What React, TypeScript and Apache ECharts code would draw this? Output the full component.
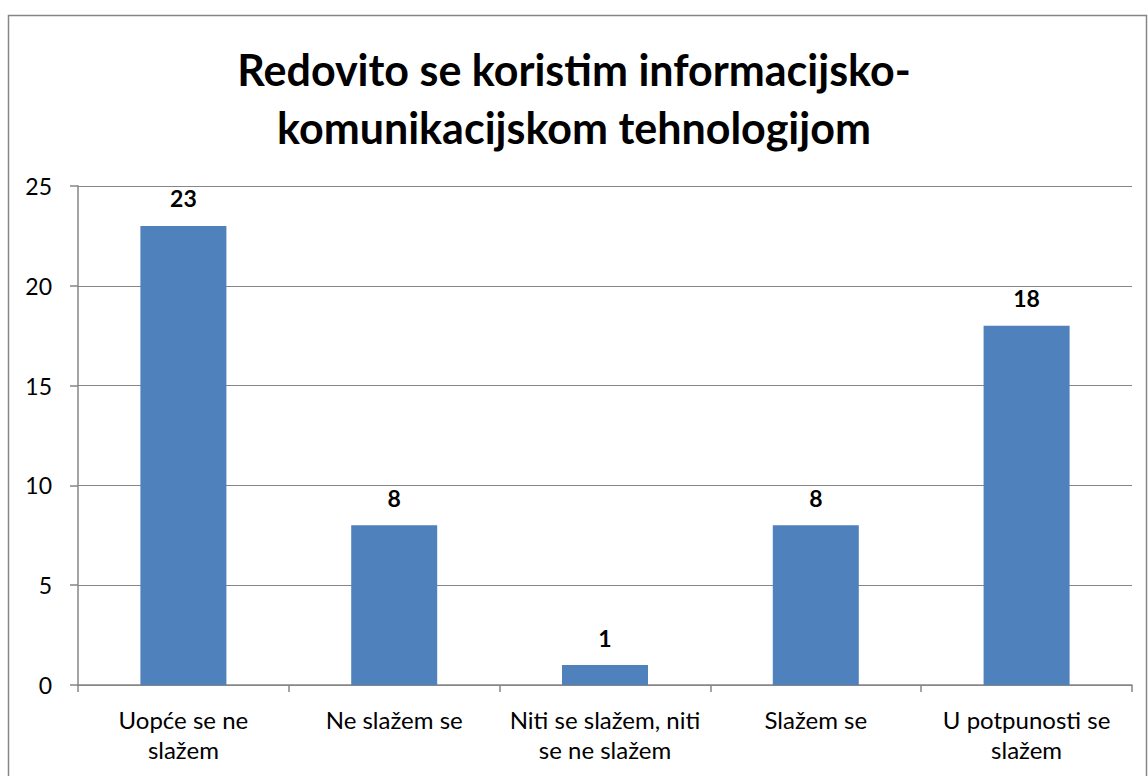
import React, { useEffect, useRef } from "react";
import * as echarts from "echarts";

const titleLines = ["Redovito se koristim informacijsko-", "komunikacijskom tehnologijom"];
const categories = ["Uopće se ne\nslažem", "Ne slažem se", "Niti se slažem, niti\nse ne slažem", "Slažem se", "U potpunosti se\nslažem"];
const values = [23, 8, 1, 8, 18];
const yTicks = { min: 0, max: 25, interval: 5 };

const FONT = "Lato, 'Open Sans', sans-serif";

export default function App() {
  const ref = useRef<HTMLDivElement>(null);
  useEffect(() => {
    if (!ref.current) return;
    const chart = echarts.init(ref.current, null, { renderer: "svg" });
    chart.setOption({
      animation: false,
      backgroundColor: "#ffffff",
      title: {
        text: titleLines.join("\n"),
        left: "center",
        top: 35,
        textStyle: { fontFamily: FONT, fontWeight: "bold", fontSize: 43, lineHeight: 58, color: "#000" },
      },
      graphic: [
        {
          type: "rect",
          shape: { x: 8.5, y: 15.5, width: 1138, height: 800 },
          style: { fill: "none", stroke: "#868686", lineWidth: 1.5 },
          silent: true,
        },
      ],
      grid: { left: 78, right: 16, top: 186, bottom: 91, containLabel: false },
      xAxis: {
        type: "category",
        data: categories,
        axisLine: { lineStyle: { color: "#868686", width: 1.5 } },
        axisTick: { show: true, alignWithLabel: false, length: 7, lineStyle: { color: "#868686", width: 1.5 } },
        axisLabel: { fontFamily: FONT, fontSize: 24, color: "#000", lineHeight: 30, margin: 19, interval: 0 },
      },
      yAxis: {
        type: "value",
        min: yTicks.min,
        max: yTicks.max,
        interval: yTicks.interval,
        axisLine: { show: true, lineStyle: { color: "#868686", width: 1.5 } },
        axisTick: { show: true, length: 8, lineStyle: { color: "#868686", width: 1.5 } },
        splitLine: { lineStyle: { color: "#868686", width: 1.2 } },
        axisLabel: { fontFamily: FONT, fontSize: 23, color: "#000", margin: 26 },
      },
      series: [
        {
          type: "bar",
          data: values,
          barWidth: 86,
          itemStyle: { color: "#4F81BD" },
          label: {
            show: true,
            position: "top",
            distance: 16,
            fontFamily: FONT,
            fontWeight: "bold",
            fontSize: 23,
            color: "#000",
          },
        },
      ],
    });
    return () => chart.dispose();
  }, []);
  return <div ref={ref} style={{ position: "fixed", left: 0, top: 0, width: 1148, height: 776 }} />;
}
